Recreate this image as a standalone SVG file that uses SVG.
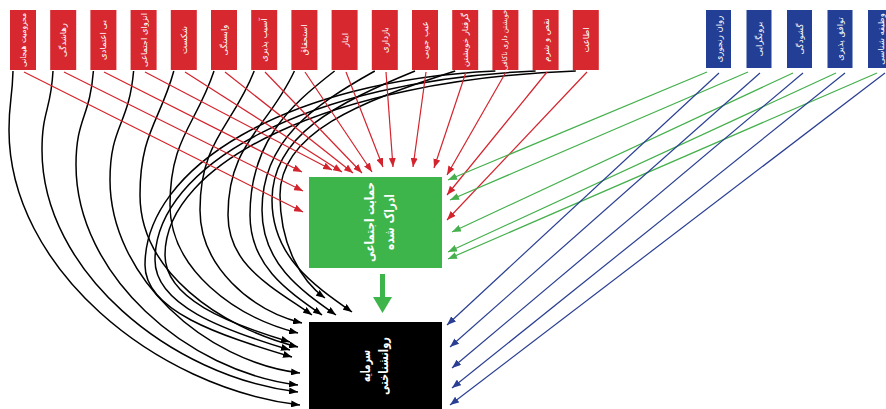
<svg xmlns="http://www.w3.org/2000/svg" width="886" height="409" viewBox="0 0 886 409">
<defs>
<style>
.rb{fill:#d7282f}
.bb{fill:#233f95}
.lbl{fill:#fff;font-family:"DejaVu Sans",sans-serif;font-size:8.5px;text-anchor:middle;dominant-baseline:central}
.sm{font-size:7px}
.big{fill:#fff;font-family:"DejaVu Sans",sans-serif;font-size:13px;font-weight:bold;text-anchor:middle;dominant-baseline:central}
.r{stroke:#d3232d;stroke-width:1.2;fill:none;marker-end:url(#mr)}
.g{stroke:#45b04d;stroke-width:1.2;fill:none;marker-end:url(#mg)}
.b{stroke:#2a3f93;stroke-width:1.2;fill:none;marker-end:url(#mb)}
.k{stroke:#000;stroke-width:1.5;fill:none;marker-end:url(#mk)}
</style>
<marker id="mr" markerUnits="userSpaceOnUse" markerWidth="9" markerHeight="7" refX="9" refY="3.5" orient="auto"><path d="M0,0 L9,3.5 L0,7 z" fill="#d3232d"/></marker>
<marker id="mg" markerUnits="userSpaceOnUse" markerWidth="9" markerHeight="7" refX="9" refY="3.5" orient="auto"><path d="M0,0 L9,3.5 L0,7 z" fill="#45b04d"/></marker>
<marker id="mb" markerUnits="userSpaceOnUse" markerWidth="9" markerHeight="7" refX="9" refY="3.5" orient="auto"><path d="M0,0 L9,3.5 L0,7 z" fill="#2a3f93"/></marker>
<marker id="mk" markerUnits="userSpaceOnUse" markerWidth="9" markerHeight="7" refX="9" refY="3.5" orient="auto"><path d="M0,0 L9,3.5 L0,7 z" fill="#000"/></marker>
</defs>
<rect width="886" height="409" fill="#fff"/>

<g id="connectors">
<path class="k" d="M13,71 C12.2,100.5 9,100.5 9,130 C9,267.5 154.5,387.5 300,405"/>
<path class="k" d="M53,71 C51,110.5 42,110.5 42,150 C42,271 170,376.6 298,392"/>
<path class="k" d="M93.4,71 C89.9,118 76,118 76,165 C76,275 187,371.7 298,385"/>
<path class="k" d="M133.6,71 C128.9,125.5 110,125.5 110,180 C110,276.5 205,361.6 300,373"/>
<path class="k" d="M173.8,71 C160.3,120.6 140,133 140,195 C140,271 219,327.3 298,347"/>
<path class="k" d="M214,71 C196.4,124.6 170,138 170,205 C170,269 234,317 298,333"/>
<path class="k" d="M254.2,71 C232.5,126.6 200,140.5 200,210 C200,266.5 251,310.3 302,323"/>
<path class="k" d="M294.4,71 C267.8,128.6 228,143 228,215 C228,265 270,285.6 312,315"/>
<path class="k" d="M334.6,71 C288.1,107 250,143 250,215 C250,265 286,289.8 322,315"/>
<path class="k" d="M374.8,71 C312.8,105.8 262,140.5 262,210 C262,262.5 299,289.1 336,315"/>
<path class="k" d="M415,71 C336.4,103.3 272,135.5 272,200 C272,256 312,284 352,312"/>
<path class="k" d="M455.2,71 C358.8,102 280,133 280,195 C280,246.5 302.5,282.3 325,298"/>
<path class="k" d="M495.4,71 C285.2,80.7 145,168 145,265 C145,311 218.5,335 292,357"/>
<path class="k" d="M535.6,71 C307.2,80.5 155,165.5 155,260 C155,305 222.5,329.8 290,350"/>
<path class="k" d="M575.8,71 C329.3,80.2 165,163 165,255 C165,298.5 227.5,323.3 290,342"/>

<line class="r" x1="24" y1="72" x2="303" y2="212"/>
<line class="r" x1="64" y1="72" x2="303" y2="191"/>
<line class="r" x1="104" y1="72" x2="302" y2="172"/>
<line class="r" x1="145" y1="72" x2="332" y2="170"/>
<line class="r" x1="185" y1="72" x2="342" y2="172"/>
<line class="r" x1="225" y1="72" x2="353" y2="173"/>
<line class="r" x1="265" y1="72" x2="362" y2="173"/>
<line class="r" x1="305" y1="72" x2="372" y2="172"/>
<line class="r" x1="346" y1="72" x2="383" y2="167"/>
<line class="r" x1="386" y1="72" x2="393" y2="167"/>
<line class="r" x1="426" y1="72" x2="413" y2="167"/>
<line class="r" x1="466" y1="72" x2="434" y2="168"/>
<line class="r" x1="506" y1="72" x2="447" y2="175"/>
<line class="r" x1="547" y1="72" x2="447" y2="195"/>
<line class="r" x1="587" y1="72" x2="447" y2="220"/>

<line class="g" x1="707" y1="72" x2="448" y2="180"/>
<line class="g" x1="748" y1="72" x2="450" y2="200"/>
<line class="g" x1="793" y1="73" x2="452" y2="232"/>
<line class="g" x1="836" y1="73" x2="448" y2="252"/>
<line class="g" x1="877" y1="73" x2="448" y2="259"/>

<line class="b" x1="719" y1="73" x2="447" y2="325"/>
<line class="b" x1="760" y1="73" x2="450" y2="347"/>
<line class="b" x1="803" y1="73" x2="452" y2="368"/>
<line class="b" x1="845" y1="73" x2="452" y2="388"/>
<line class="b" x1="885" y1="73" x2="450" y2="405"/>

<rect x="380" y="274" width="5" height="24" fill="#3db54a"/>
<polygon points="373,297 392,297 382.5,313" fill="#3db54a"/>
</g>

<g id="r1"><rect class="rb" x="10" y="10" width="26" height="60"/><text class="lbl" transform="translate(23,40) rotate(-90)" textLength="54" lengthAdjust="spacingAndGlyphs">محرومیت هیجانی</text></g>
<g id="r2"><rect class="rb" x="50.2" y="10" width="26" height="60"/><text class="lbl" transform="translate(63.2,40) rotate(-90)">رهاشدگی</text></g>
<g id="r3"><rect class="rb" x="90.4" y="10" width="26" height="60"/><text class="lbl" transform="translate(103.4,40) rotate(-90)">بی اعتمادی</text></g>
<g id="r4"><rect class="rb" x="130.6" y="10" width="26" height="60"/><text class="lbl" transform="translate(143.6,40) rotate(-90)" textLength="54" lengthAdjust="spacingAndGlyphs">انزوای اجتماعی</text></g>
<g id="r5"><rect class="rb" x="170.8" y="10" width="26" height="60"/><text class="lbl" transform="translate(183.8,40) rotate(-90)">شکست</text></g>
<g id="r6"><rect class="rb" x="211" y="10" width="26" height="60"/><text class="lbl" transform="translate(224,40) rotate(-90)">وابستگی</text></g>
<g id="r7"><rect class="rb" x="251.2" y="10" width="26" height="60"/><text class="lbl" transform="translate(264.2,40) rotate(-90)">آسیب پذیری</text></g>
<g id="r8"><rect class="rb" x="291.4" y="10" width="26" height="60"/><text class="lbl" transform="translate(304.4,40) rotate(-90)">استحقاق</text></g>
<g id="r9"><rect class="rb" x="331.6" y="10" width="26" height="60"/><text class="lbl" transform="translate(344.6,40) rotate(-90)">ایثار</text></g>
<g id="r10"><rect class="rb" x="371.8" y="10" width="26" height="60"/><text class="lbl" transform="translate(384.8,40) rotate(-90)">بازداری</text></g>
<g id="r11"><rect class="rb" x="412" y="10" width="26" height="60"/><text class="lbl" transform="translate(425,40) rotate(-90)">عیب جویی</text></g>
<g id="r12"><rect class="rb" x="452.2" y="10" width="26" height="60"/><text class="lbl" transform="translate(465.2,40) rotate(-90)" textLength="54" lengthAdjust="spacingAndGlyphs">گرفتار خویشتن</text></g>
<g id="r13"><rect class="rb" x="492.4" y="10" width="26" height="60"/><text class="lbl sm" transform="translate(505.4,40) rotate(-90)">خویشتن داری ناکافی</text></g>
<g id="r14"><rect class="rb" x="532.6" y="10" width="26" height="60"/><text class="lbl" transform="translate(545.6,40) rotate(-90)">نقص و شرم</text></g>
<g id="r15"><rect class="rb" x="572.8" y="10" width="26" height="60"/><text class="lbl" transform="translate(585.8,40) rotate(-90)">اطاعت</text></g>

<g id="b1"><rect class="bb" x="706" y="10" width="25" height="58"/><text class="lbl" transform="translate(718.5,39) rotate(-90)">روان رنجوری</text></g>
<g id="b2"><rect class="bb" x="746.5" y="10" width="25" height="58"/><text class="lbl" transform="translate(759,39) rotate(-90)">برونگرایی</text></g>
<g id="b3"><rect class="bb" x="787" y="10" width="25" height="58"/><text class="lbl" transform="translate(799.5,39) rotate(-90)">گشودگی</text></g>
<g id="b4"><rect class="bb" x="827.5" y="10" width="25" height="58"/><text class="lbl" transform="translate(840,39) rotate(-90)">توافق پذیری</text></g>
<g id="b5"><rect class="bb" x="868" y="10" width="25" height="58"/><text class="lbl" transform="translate(880.5,39) rotate(-90)">وظیفه شناسی</text></g>

<g id="support"><rect x="309" y="177" width="133" height="91" fill="#3db54a"/>
<text class="big" transform="translate(369,222) rotate(-90)" textLength="80" lengthAdjust="spacingAndGlyphs">حمایت اجتماعی</text>
<text class="big" transform="translate(389,222) rotate(-90)" textLength="56" lengthAdjust="spacingAndGlyphs">ادراک شده</text></g>

<g id="capital"><rect x="309" y="322" width="133" height="92" fill="#000"/>
<text class="big" transform="translate(365,366) rotate(-90)" textLength="32" lengthAdjust="spacingAndGlyphs">سرمایه</text>
<text class="big" transform="translate(383,366) rotate(-90)" textLength="58" lengthAdjust="spacingAndGlyphs">روانشناختی</text></g>
</svg>
